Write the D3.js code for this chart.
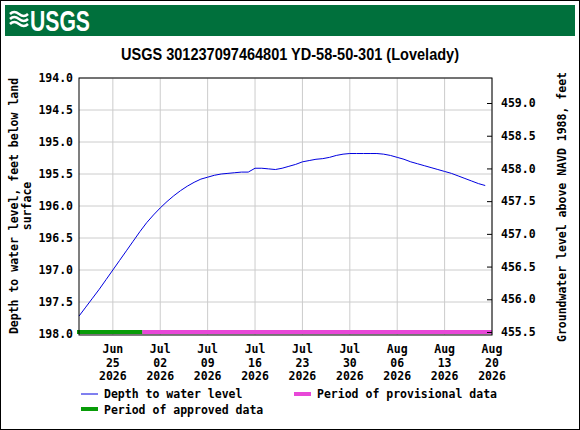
<!DOCTYPE html>
<html><head><meta charset="utf-8">
<script src="https://d3js.org/d3.v7.min.js"></script>
<style>body{margin:0;background:#fff}</style>
</head><body>
<script>
// Daily depth to water level, feet below land surface (starting Jun 20 2026)
var startDate = "2026-06-20";
var depthValues = [197.72,197.58,197.44,197.30,197.15,197.00,196.85,196.70,196.55,196.40,
  196.26,196.14,196.03,195.93,195.84,195.76,195.69,195.63,195.58,195.55,
  195.52,195.50,195.49,195.48,195.47,195.47,195.41,195.41,195.42,195.43,
  195.41,195.38,195.35,195.31,195.29,195.27,195.26,195.24,195.21,195.19,
  195.18,195.18,195.18,195.18,195.18,195.19,195.21,195.24,195.27,195.31,
  195.34,195.37,195.40,195.43,195.46,195.49,195.53,195.57,195.61,195.65,195.68];
var leftTicks = [194.0,194.5,195.0,195.5,196.0,196.5,197.0,197.5,198.0];
var rightTicks = [455.5,456.0,456.5,457.0,457.5,458.0,458.5,459.0];
var xTickDates = ["2026-06-25","2026-07-02","2026-07-09","2026-07-16","2026-07-23","2026-07-30","2026-08-06","2026-08-13","2026-08-20"];
var approvedPeriod = ["2026-06-20","2026-06-29T08:00"];
var provisionalPeriod = ["2026-06-29T08:00","2026-08-20"];

var W = 580, H = 430;
var m = {left: 79, right: 88, top: 78, bottom: 95};
var pw = W - m.left - m.right, ph = H - m.top - m.bottom;
var parse = d3.isoParse;
var fs = "11.5px";

var svg = d3.select("body").append("svg").attr("width", W).attr("height", H)
  .style("font-family", "DejaVu Sans Mono").style("font-weight", "bold");

svg.append("rect").attr("x", 0.5).attr("y", 0.5).attr("width", W - 1).attr("height", H - 1)
  .attr("fill", "#fff").attr("stroke", "#000");
svg.append("rect").attr("x", 5).attr("y", 5).attr("width", 570).attr("height", 31).attr("fill", "#00703c");
svg.append("text").attr("x", 30).attr("y", 31).attr("fill", "#fff")
  .attr("textLength", 60).attr("lengthAdjust", "spacingAndGlyphs")
  .style("font-family", "Liberation Sans").style("font-size", "30px")
  .style("font-weight", "bold").text("USGS");
// small wave logo
[0, 5, 10].forEach(function(o) {
  svg.append("path").attr("d", "M10," + (14 + o) + " q4,-4 9,0 t9,0")
    .attr("fill", "none").attr("stroke", "#fff").attr("stroke-width", 2.5);
});

svg.append("text").attr("x", 290).attr("y", 60).attr("text-anchor", "middle")
  .attr("textLength", 338).attr("lengthAdjust", "spacingAndGlyphs")
  .style("font-family", "Liberation Sans").style("font-size", "17px")
  .style("font-weight", "bold").text("USGS 301237097464801 YD-58-50-301 (Lovelady)");

var g = svg.append("g").attr("transform", "translate(" + m.left + "," + m.top + ")");
var x = d3.scaleTime().domain([parse("2026-06-20"), parse("2026-08-20")]).range([0, pw]);
var y = d3.scaleLinear().domain([194, 198]).range([0, 256]);
var yr = d3.scaleLinear().domain([459.0 + 25 / 65.4, 455.5 - 3 / 65.4]).range([0, ph]);

// grid
g.selectAll(".vg").data(xTickDates).enter().append("line")
  .attr("x1", function(d) { return x(parse(d)); }).attr("x2", function(d) { return x(parse(d)); })
  .attr("y1", 0).attr("y2", ph).attr("stroke", "#ccc");
g.selectAll(".hg").data(leftTicks).enter().append("line")
  .attr("x1", 0).attr("x2", pw).attr("y1", function(d) { return y(d); }).attr("y2", function(d) { return y(d); })
  .attr("stroke", "#ccc");

// periods
g.append("line").attr("x1", x(parse(provisionalPeriod[0]))).attr("x2", x(parse(provisionalPeriod[1])))
  .attr("y1", ph - 3).attr("y2", ph - 3).attr("stroke", "#e848d8").attr("stroke-width", 4);
g.append("line").attr("x1", x(parse(approvedPeriod[0])) - 2).attr("x2", x(parse(approvedPeriod[1])))
  .attr("y1", ph - 3).attr("y2", ph - 3).attr("stroke", "#089c08").attr("stroke-width", 4);

// data line
var data = depthValues.map(function(v, i) { return {d: d3.timeDay.offset(parse(startDate), i), v: v}; });
g.append("path").datum(data).attr("fill", "none").attr("stroke", "#0000e0").attr("stroke-width", 1)
  .attr("d", d3.line().x(function(d) { return x(d.d); }).y(function(d) { return y(d.v); }));

g.append("rect").attr("width", pw).attr("height", ph).attr("fill", "none").attr("stroke", "#000");

// axes
var fmtL = d3.format(".1f");
var ax = g.append("g").call(d3.axisLeft(y).tickValues(leftTicks).tickFormat(fmtL).tickSize(0).tickPadding(6));
var ar = g.append("g").attr("transform", "translate(" + pw + ",0)")
  .call(d3.axisRight(yr).tickValues(rightTicks).tickFormat(fmtL).tickSize(-5).tickPadding(9));
var monthNames = ["Jan","Feb","Mar","Apr","May","Jun","Jul","Aug","Sep","Oct","Nov","Dec"];
var axb = g.append("g").attr("transform", "translate(0," + ph + ")")
  .call(d3.axisBottom(x).tickValues(xTickDates.map(parse)).tickSize(0).tickFormat(""));
[ax, ar, axb].forEach(function(a) {
  a.select(".domain").remove();
  a.selectAll("text").style("font-family", "DejaVu Sans Mono").style("font-weight", "bold")
    .style("font-size", fs).attr("fill", "#000");
});
xTickDates.forEach(function(s) {
  var d = parse(s);
  var t = g.append("text").attr("x", x(d)).attr("y", ph + 18).attr("text-anchor", "middle")
    .style("font-size", fs);
  [monthNames[d.getMonth()], d3.timeFormat("%d")(d), "2026"].forEach(function(l, i) {
    t.append("tspan").attr("x", x(d)).attr("dy", i ? 13.5 : 0).text(l);
  });
});

// axis titles
svg.append("text").attr("transform", "translate(18,206) rotate(-90)").attr("text-anchor", "middle")
  .style("font-size", fs).text("Depth to water level, feet below land");
svg.append("text").attr("transform", "translate(31,206) rotate(-90)").attr("text-anchor", "middle")
  .style("font-size", fs).text("surface");
svg.append("text").attr("transform", "translate(566,207) rotate(-90)").attr("text-anchor", "middle")
  .style("font-size", fs).text("Groundwater level above NAVD 1988, feet");

// legend
var lg = svg.append("g").style("font-size", fs);
lg.append("line").attr("x1", 81).attr("x2", 98).attr("y1", 394).attr("y2", 394).attr("stroke", "#0000e0");
lg.append("text").attr("x", 104).attr("y", 398).text("Depth to water level");
lg.append("line").attr("x1", 294).attr("x2", 311).attr("y1", 394).attr("y2", 394).attr("stroke", "#e848d8").attr("stroke-width", 4);
lg.append("text").attr("x", 317).attr("y", 398).text("Period of provisional data");
lg.append("line").attr("x1", 81).attr("x2", 98).attr("y1", 409).attr("y2", 409).attr("stroke", "#089c08").attr("stroke-width", 4);
lg.append("text").attr("x", 104).attr("y", 414).text("Period of approved data");
</script>
</body></html>
